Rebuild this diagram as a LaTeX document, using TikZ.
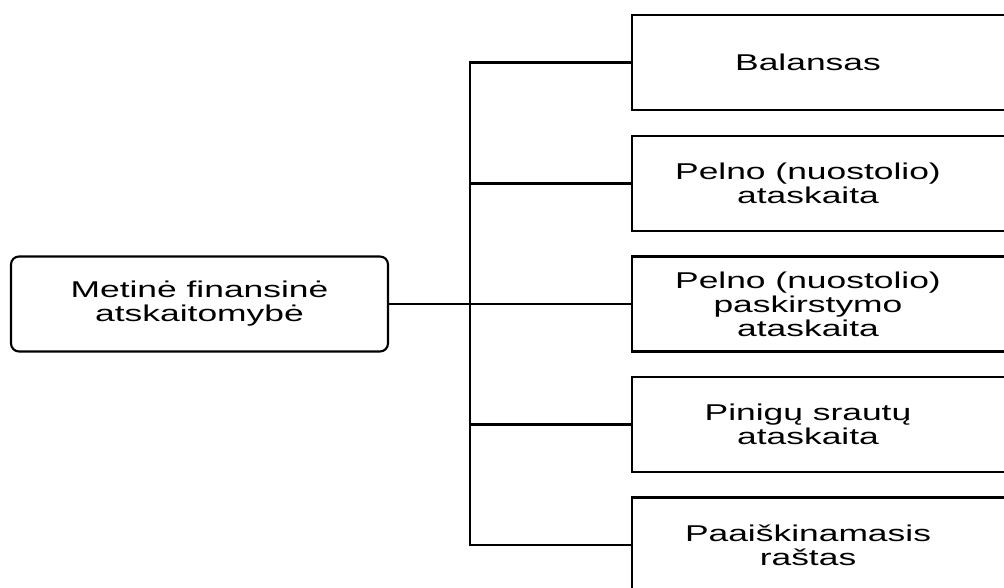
\documentclass[tikz,border=0pt]{standalone}
\usepackage{fontspec}
\newfontfamily\diagfont[FakeStretch=1.55]{Liberation Sans}
\usetikzlibrary{positioning}

\tikzset{
    link/.style = {line width=1.2pt},
    rootbox/.style = {draw, line width=1.2pt, rounded corners=0.16cm, minimum width=7.54cm, minimum height=1.9cm},
    leafbox/.style = {draw, line width=1.2pt, anchor=west, minimum width=7.8cm, minimum height=1.9cm},
    boxtext/.style = {align=center, inner sep=0pt, font=\diagfont\fontsize{13}{13.6}\selectfont}
}

\begin{document}
\begin{tikzpicture}
    \useasboundingbox (0,0) rectangle (20.08,11.76);

    % root
    \node[rootbox, boxtext, inner sep=0pt] (metine) at (3.99,5.68) {Metinė finansinė\\atskaitomybė};

    % report boxes
    \node[leafbox] (balansas) at (12.62,10.51) {};
    \node[leafbox] (pelno) at (12.62,8.09) {};
    \node[leafbox] (paskirst) at (12.62,5.68) {};
    \node[leafbox] (pinigu) at (12.62,3.27) {};
    \node[leafbox] (rastas) at (12.62,0.86) {};

    \node[boxtext] (balansas-t) at (16.16,10.51) {Balansas};
    \node[boxtext] (pelno-t) at (16.16,8.09) {Pelno (nuostolio)\\ataskaita};
    \node[boxtext] (paskirst-t) at (16.16,5.68) {Pelno (nuostolio)\\paskirstymo\\ataskaita};
    \node[boxtext] (pinigu-t) at (16.16,3.27) {Pinigų srautų\\ataskaita};
    \node[boxtext] (rastas-t) at (16.16,0.86) {Paaiškinamasis\\raštas};

    % connectors
    \coordinate (bus) at (9.4,0);
    \draw[link] (balansas.west) -- (balansas.west -| bus) -- (rastas.west -| bus) -- (rastas.west);
    \draw[link] (pelno.west) -- (pelno.west -| bus);
    \draw[link] (pinigu.west) -- (pinigu.west -| bus);
    \draw[link] (metine.east) -- (paskirst.west);
\end{tikzpicture}
\end{document}
